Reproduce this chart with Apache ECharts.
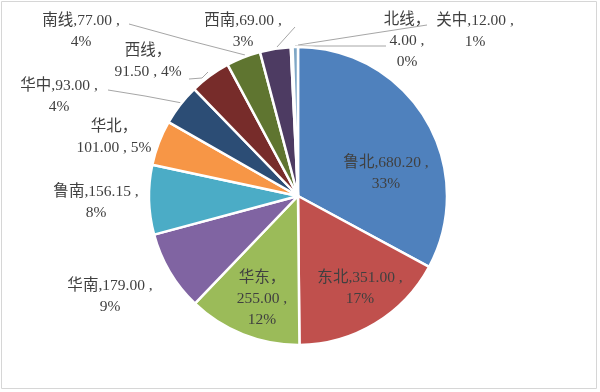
<!DOCTYPE html>
<html>
<head>
<meta charset="utf-8">
<script src="https://cdn.jsdelivr.net/npm/echarts@6/dist/echarts.min.js"></script>
<style>html,body{margin:0;padding:0;background:#fff;}#c{width:600px;height:392px;}</style>
</head>
<body>
<div id="c"></div>
<script>
// ---- data ----
var categories = ['鲁北', '东北', '华东', '华南', '鲁南', '华北', '华中', '西线', '南线', '西南', '北线', '关中'];
var values = [680.20, 351.00, 255.00, 179.00, 156.15, 101.00, 93.00, 91.50, 77.00, 69.00, 4.00, 12.00];

// ---- styles ----
var colors = ['#4F81BD', '#C0504D', '#9BBB59', '#8064A2', '#4BACC6', '#F79646', '#2C4D75', '#772C2A', '#5F7530', '#4D3B62', '#3F8497', '#7FA7C6'];
var insideNames = ['鲁北', '东北', '华东'];
// label text wrapping style per category: A = "name,val ,\npct", B = "name，\nval , pct", C = "name，\nval ,\npct"
var wrapMode = {'鲁北':'A','东北':'A','华东':'C','华南':'A','鲁南':'A','华北':'B','华中':'A','西线':'B','南线':'A','西南':'A','北线':'C','关中':'A'};
// label centers (pixels) and leader line points
var labelPos = {
  '鲁北':[386,173], '东北':[360,288], '华东':[262,299], '华南':[110,296], '鲁南':[96,202],
  '华北':[114,137], '华中':[59,96], '西线':[148,61], '南线':[81,31], '西南':[243,31],
  '北线':[407,41], '关中':[475,31]
};
var leader = {
  '华中':[[182,103],[145,96],[108,90]],
  '西线':[[208,72],[202,78],[189,79]],
  '南线':[[245,55],[187,40],[129,24]],
  '西南':[[277,47],[286,37],[295,27]],
  '北线':[[295,46],[340,46],[386,46]],
  '关中':[[298,45],[362,35],[427,25]]
};

var total = values.reduce(function (a, b) { return a + b; }, 0);

var chart = echarts.init(document.getElementById('c'), null, {renderer:'canvas'});
var pieData = categories.map(function (n, i) {
  var item = {name: n, value: values[i], itemStyle: {color: colors[i]}};
  if (insideNames.indexOf(n) >= 0) {
    item.label = {position: 'inside'};
  }
  if (!leader[n]) {
    item.labelLine = {show: false};
  }
  return item;
});

chart.setOption({
  animation: false,
  backgroundColor: '#ffffff',
  graphic: [{
    type: 'rect', silent: true,
    shape: {x: 1.5, y: 1.5, width: 595, height: 387},
    style: {fill: 'none', stroke: '#d6d6d6', lineWidth: 1}
  }],
  series: [{
    type: 'pie',
    center: [298, 196],
    radius: 149,
    startAngle: 90,
    clockwise: true,
    avoidLabelOverlap: false,
    data: pieData,
    itemStyle: {borderColor: '#ffffff', borderWidth: 2.5},
    label: {
      show: true,
      position: 'outside',
      fontFamily: '"Liberation Serif", "Noto Sans CJK SC", serif',
      fontSize: 15.5,
      lineHeight: 21,
      color: '#404040',
      align: 'center',
      formatter: function (p) {
        var v = values[p.dataIndex].toFixed(2);
        var pct = Math.round(values[p.dataIndex] / total * 100) + '%';
        var m = wrapMode[p.name];
        if (m === 'A') return p.name + ',' + v + ' ,\n' + pct;
        if (m === 'B') return p.name + '，\n' + v + ' , ' + pct;
        return p.name + '，\n' + v + ' ,\n' + pct;
      }
    },
    labelLine: {
      show: true,
      lineStyle: {color: '#a6a6a6', width: 1}
    },
    labelLayout: function (params) {
      var n = categories[params.dataIndex];
      var pos = labelPos[n];
      var res = {x: pos[0], y: pos[1], align: 'center', verticalAlign: 'middle', hideOverlap: false};
      if (leader[n]) res.labelLinePoints = leader[n];
      return res;
    }
  }]
});
</script>
</body>
</html>
